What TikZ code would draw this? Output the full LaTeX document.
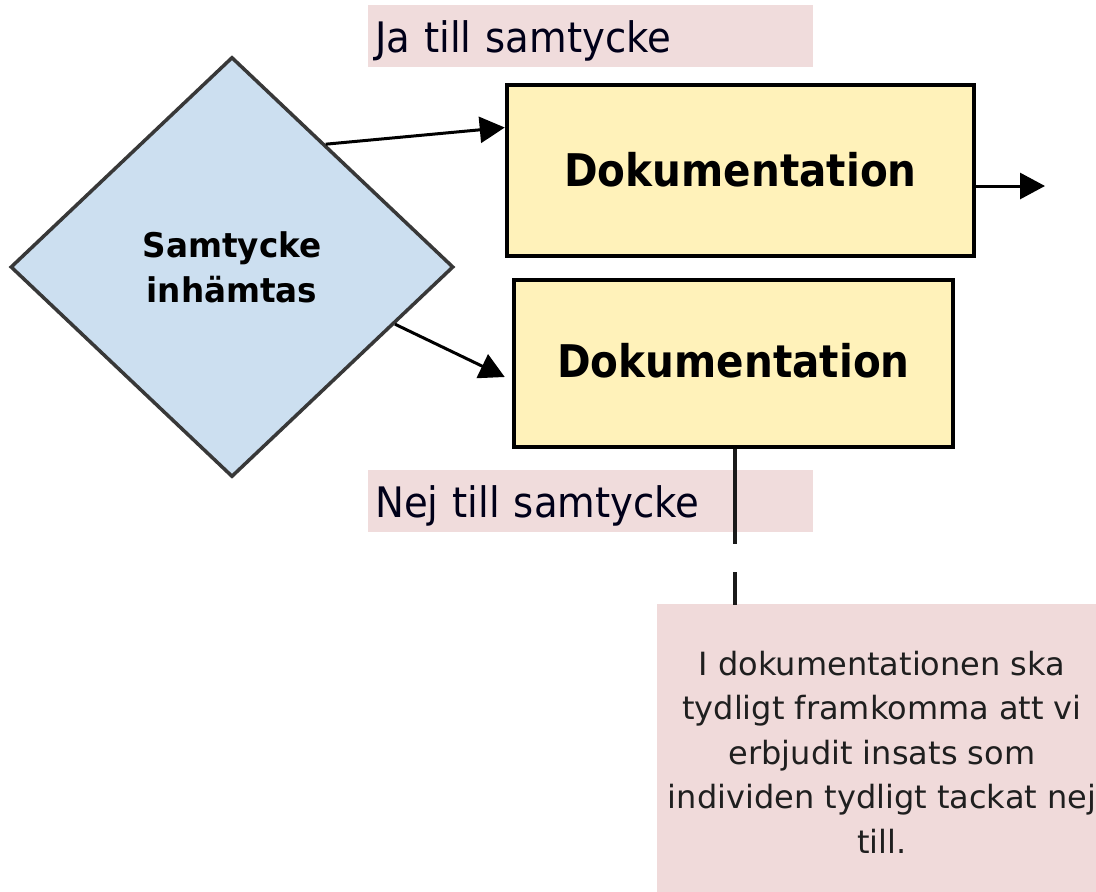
\documentclass[tikz,border=0pt]{standalone}
\usepackage{fontspec}
\setmainfont{DejaVu Sans}
\newfontfamily\labfont{DejaVu Sans}[FakeStretch=0.92]
\newfontfamily\boxfont{DejaVu Sans}[FakeStretch=0.9]
\newfontfamily\diafont{DejaVu Sans}[FakeStretch=0.96]
\usetikzlibrary{shapes.geometric,arrows.meta,calc}
\definecolor{labpink}{HTML}{F0DCDC}
\definecolor{notepink}{HTML}{F0DADA}
\definecolor{boxyellow}{HTML}{FFF2BA}
\definecolor{diablue}{HTML}{CCDFF0}
\definecolor{diaborder}{HTML}{383838}
\definecolor{linecol}{HTML}{1A1A1A}
\tikzset{
  labelbox/.style={fill=labpink, anchor=north west, minimum width=445pt, minimum height=62pt,
    text width=431pt, inner xsep=7pt, inner ysep=0pt, align=left, text height=33pt, text depth=0pt,
    text=black!90!blue, font=\labfont\fontsize{42}{50}\selectfont},
  docbox/.style={draw=black, fill=boxyellow, line width=4.5pt, inner sep=0pt,
    font=\boxfont\bfseries\fontsize{45}{54}\selectfont},
  decision/.style={diamond, draw=diaborder, fill=diablue, line width=3.5pt, inner sep=0pt,
    minimum width=443pt, minimum height=420pt, align=center,
    font=\diafont\bfseries\fontsize{34}{45}\selectfont},
  flow/.style={draw=black, line width=3pt, -{Triangle[length=25pt,width=26pt]}},
  conn/.style={draw=linecol, line width=4pt}
}
\begin{document}
\begin{tikzpicture}[x=1pt,y=-1pt]
\useasboundingbox (0,0) rectangle (1096,892);
\fill[white] (0,0) rectangle (1096,892);

\node[labelbox] (ja) at (368,5) {Ja till samtycke};
\node[labelbox] (nej) at (368,470) {Nej till samtycke};

\node[decision] (dia) at (232,267) {Samtycke\\inhämtas};

\node[docbox, minimum width=467pt, minimum height=171pt, text height=34pt, text depth=3pt] (doc1) at (740.5,170.5) {Dokumentation};
\node[docbox, minimum width=439pt, minimum height=167pt, text height=34pt, text depth=7pt] (doc2) at (733.5,363.5) {Dokumentation};

\fill[notepink] (657,604) rectangle (1096,892);
\node[align=center, inner sep=0pt, text=black!88, font=\fontsize{32}{44.5}\selectfont] (note) at (882,752)
  {I dokumentationen ska\\tydligt framkomma att vi\\erbjudit insats som\\individen tydligt tackat nej\\till.};

\coordinate (out) at (1045,186);
\coordinate (gapA) at (735,544);
\coordinate (gapB) at (735,572);
\coordinate (notetop) at (735,605);

\draw[flow] ($(dia.north)!0.42!(dia.east)$) -- ([yshift=43pt]doc1.west);
\draw[flow] ($(dia.east)!0.27!(dia.south)$) -- ([xshift=-7pt,yshift=-13.5pt]doc2.west);
\draw[flow] ([yshift=-15.5pt]doc1.east) -- (out);

\draw[conn] ([xshift=1.5pt]doc2.south) -- (gapA);
\draw[conn] (gapB) -- (notetop);
\end{tikzpicture}
\end{document}
